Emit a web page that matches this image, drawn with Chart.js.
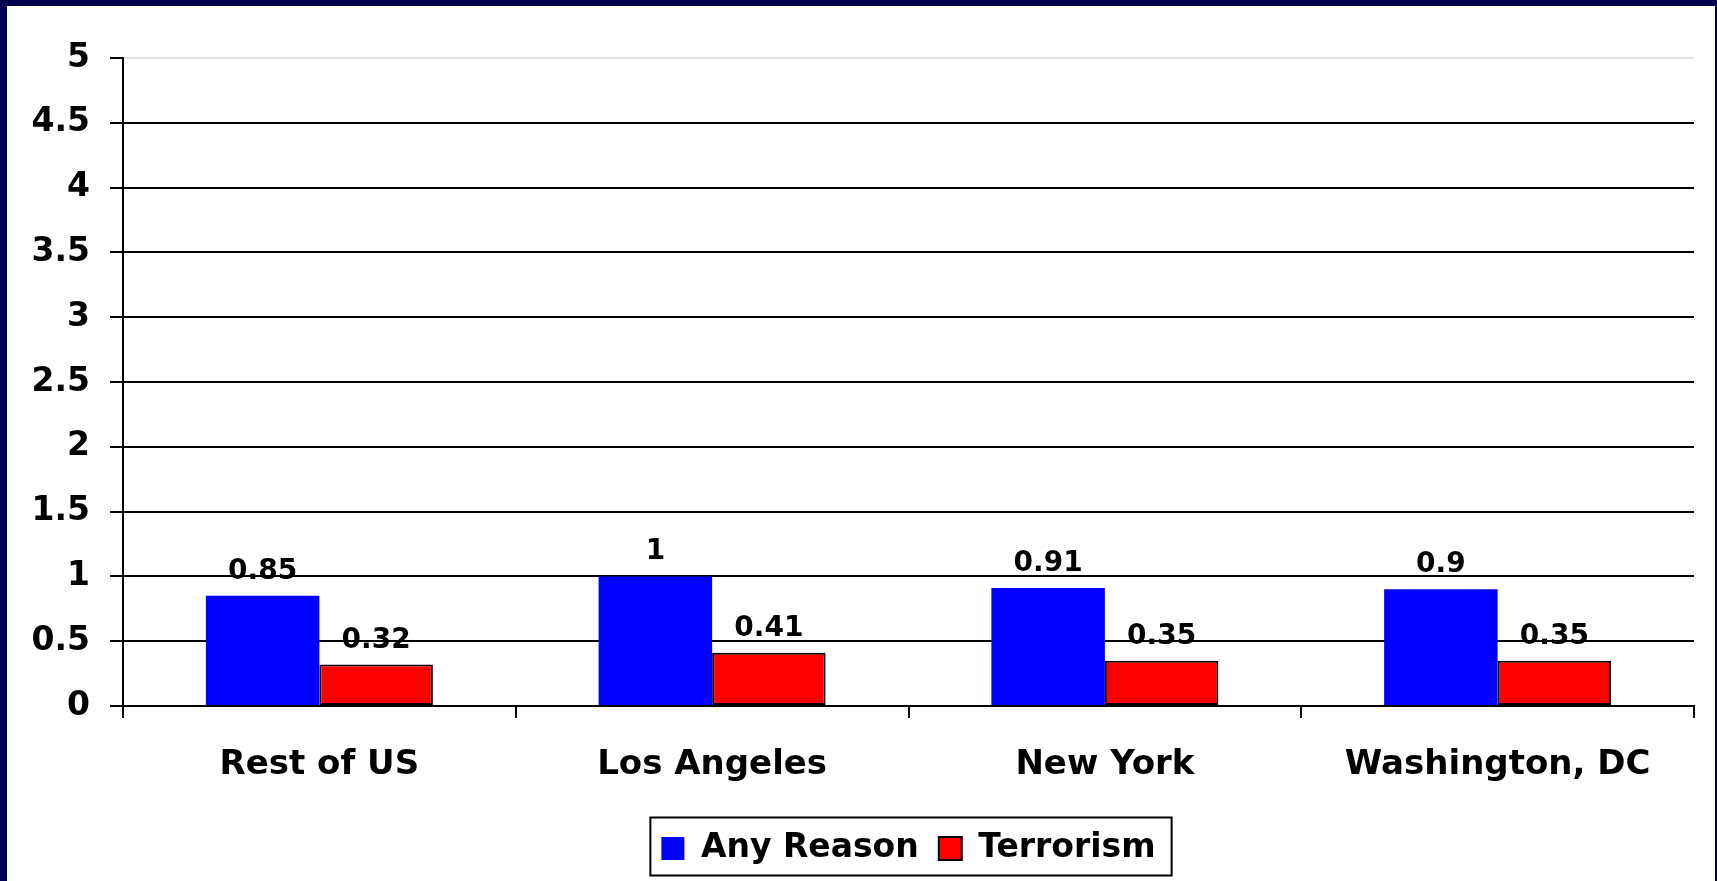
<!DOCTYPE html>
<html>
<head>
<meta charset="utf-8">
<title>Any Reason vs Terrorism</title>
<script src="https://cdn.jsdelivr.net/npm/chart.js@4"></script>
<style>
    html, body {
        margin: 0;
        padding: 0;
        background: #000050;
        width: 1717px;
        height: 881px;
        overflow: hidden;
    }
    #chartBox {
        position: absolute;
        left: 7px;
        top: 6px;
        width: 1708px;
        height: 881px;
        background: #ffffff;
    }
</style>
</head>
<body>
<div id="chartBox">
    <canvas id="cityChart" width="1708" height="881"></canvas>
</div>
<script>
// Chart data
const cities = ['Rest of US', 'Los Angeles', 'New York', 'Washington, DC'];
const anyReason = [0.85, 1, 0.91, 0.9];
const terrorism = [0.32, 0.41, 0.35, 0.35];
const yTicks = [0, 0.5, 1, 1.5, 2, 2.5, 3, 3.5, 4, 4.5, 5];

const FONT = 'DejaVu Sans';

// Draw the value above every bar
const barValues = {
    id: 'barValues',
    afterDatasetsDraw(chart) {
        const ctx = chart.ctx;
        ctx.save();
        ctx.font = 'bold 28px "' + FONT + '"';
        ctx.fillStyle = '#000';
        ctx.textAlign = 'center';
        ctx.textBaseline = 'alphabetic';
        chart.data.datasets.forEach((ds, i) => {
            const meta = chart.getDatasetMeta(i);
            meta.data.forEach((bar, j) => {
                ctx.fillText(String(ds.data[j]), bar.x, bar.y - 17);
            });
        });
        ctx.restore();
    }
};

// Black frame around the legend
const legendFrame = {
    id: 'legendFrame',
    afterDraw(chart) {
        const boxes = chart.legend.legendHitBoxes;
        if (!boxes || !boxes.length) return;
        const left = Math.min(...boxes.map(b => b.left)) - 11;
        const right = Math.max(...boxes.map(b => b.left + b.width)) + 16;
        const mid = boxes[0].top + boxes[0].height / 2;
        const ctx = chart.ctx;
        ctx.save();
        ctx.strokeStyle = '#000';
        ctx.lineWidth = 2;
        ctx.strokeRect(left, mid - 31, right - left, 58);
        ctx.restore();
    }
};

const ctx = document.getElementById('cityChart').getContext('2d');
const cityChart = new Chart(ctx, {
    type: 'bar',
    data: {
        labels: cities,
        datasets: [{
            label: 'Any Reason',
            data: anyReason,
            backgroundColor: '#0000ff',
            borderWidth: 0
        }, {
            label: 'Terrorism',
            data: terrorism,
            backgroundColor: '#ff0000',
            borderColor: '#000000',
            borderWidth: 2,
            borderSkipped: false
        }]
    },
    options: {
        responsive: false,
        devicePixelRatio: 1,
        animation: false,
        categoryPercentage: 0.578,
        barPercentage: 1.0,
        layout: {
            padding: { left: 0, top: 52, right: 21, bottom: 12 }
        },
        plugins: {
            tooltip: { enabled: false },
            legend: {
                position: 'bottom',
                fullSize: false,
                labels: {
                    color: '#000',
                    font: { family: FONT, size: 33, weight: 'bold' },
                    boxWidth: 23,
                    boxHeight: 23,
                    padding: 20
                }
            }
        },
        scales: {
            x: {
                grid: {
                    offset: true,
                    drawOnChartArea: false,
                    drawTicks: true,
                    tickLength: 12,
                    color: '#000',
                    lineWidth: 2
                },
                border: { display: true, color: '#000', width: 2 },
                ticks: {
                    color: '#000',
                    padding: 27,
                    maxRotation: 0,
                    font: { family: FONT, size: 34, weight: 'bold' }
                },
                afterFit(scale) {
                    scale.height = 106;
                }
            },
            y: {
                min: 0,
                max: 5,
                afterBuildTicks(scale) {
                    scale.ticks = yTicks.map(v => ({ value: v }));
                },
                grid: {
                    color: c => (c.tick && c.tick.value === 5 ? '#e2e2e2' : '#000'),
                    tickColor: '#000',
                    lineWidth: 2,
                    tickLength: 13
                },
                border: { display: true, color: '#000', width: 2 },
                ticks: {
                    color: '#000',
                    padding: 20,
                    font: { family: FONT, size: 33, weight: 'bold' },
                    callback: value => String(value)
                },
                afterFit(scale) {
                    scale.width = 116;
                }
            }
        }
    },
    plugins: [barValues, legendFrame]
});
</script>
</body>
</html>
